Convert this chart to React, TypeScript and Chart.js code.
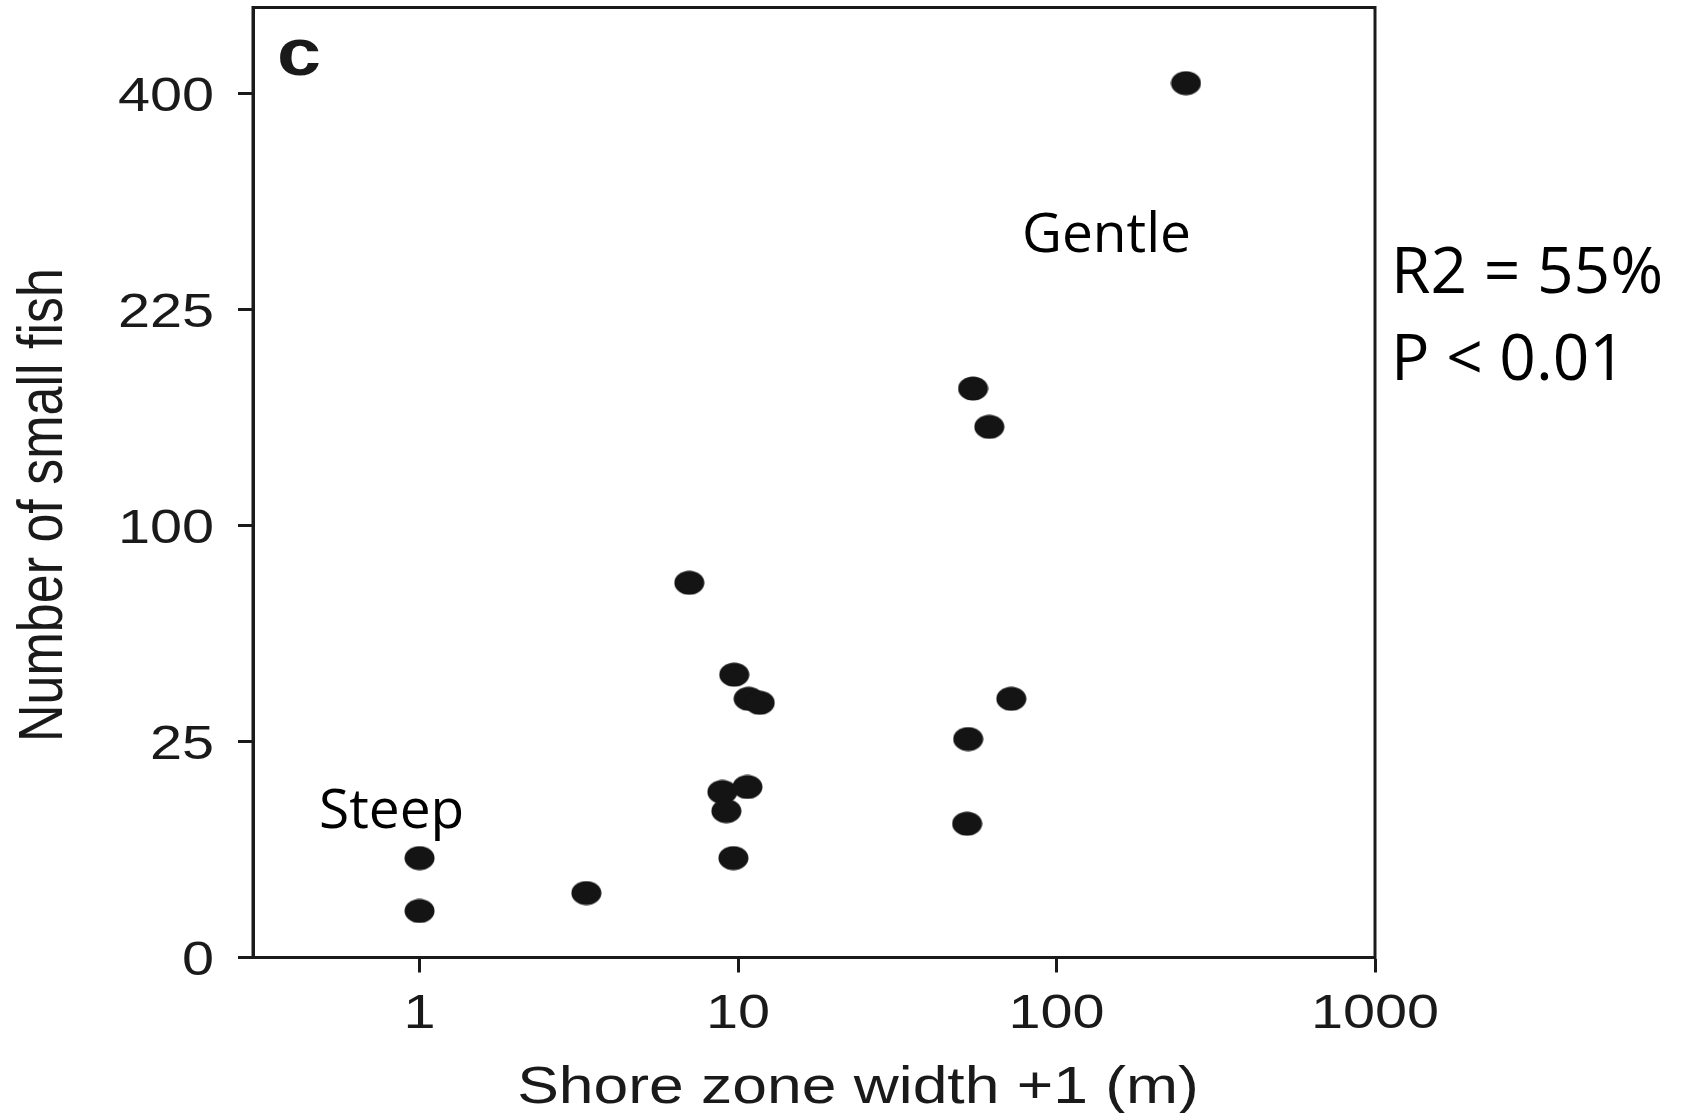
import React, { useEffect, useRef } from 'react';
import { Chart, registerables } from 'chart.js';

Chart.register(...registerables);

// ---- data ----
const shoreWidth = [255, 54.7, 61.5, 7.03, 9.73, 10.8, 11.7, 72.1, 52.8, 8.93, 10.7, 9.19, 52.4, 9.67, 1.0, 1.0, 3.34];
const smallFish = [410, 173.6, 151, 75.3, 42.9, 35.9, 34.8, 35.9, 25.6, 14.7, 15.6, 11.5, 9.6, 5.3, 5.3, 1.16, 2.23];
const xTickValues = [1, 10, 100, 1000];
const yTickValues = [0, 25, 100, 225, 400];
const xAxisTitle = 'Shore zone width +1 (m)';
const yAxisTitle = 'Number of small fish';
const panelLabel = 'c';
const groupLabels = ['Steep', 'Gentle'];
const statsLines = ['R2 = 55%', 'P < 0.01'];

const INK = '#1a1a1a';
const AXIS_FONT = '"Liberation Sans", Arial, Helvetica, sans-serif';
const NOTE_FONT = '"Open Sans", "Noto Sans", sans-serif';
const SX = 1.2; // horizontal stretch of the original figure

function makeDot(): HTMLCanvasElement {
  const c = document.createElement('canvas');
  c.width = 31;
  c.height = 25;
  const g = c.getContext('2d')!;
  g.fillStyle = '#141414';
  g.beginPath();
  g.ellipse(15.5, 12.5, 15, 12, 0, 0, Math.PI * 2);
  g.fill();
  return c;
}

function drawText(
  ctx: CanvasRenderingContext2D,
  text: string,
  x: number,
  y: number,
  font: string,
  align: CanvasTextAlign,
  sx: number,
  rotate = 0,
  color = INK
) {
  ctx.save();
  ctx.translate(x, y);
  ctx.scale(sx, 1);
  if (rotate) ctx.rotate(rotate);
  ctx.font = font;
  ctx.fillStyle = color;
  ctx.textAlign = align;
  ctx.textBaseline = 'alphabetic';
  ctx.fillText(text, 0, 0);
  ctx.restore();
}

const framePlugin = {
  id: 'framePlugin',
  beforeDatasetsDraw(chart: any) {
    const { ctx, chartArea: a } = chart;
    ctx.save();
    ctx.strokeStyle = INK;
    ctx.lineWidth = 3;
    ctx.strokeRect(a.left, a.top, a.right - a.left, a.bottom - a.top);
    ctx.restore();
  },
  afterDraw(chart: any) {
    const ctx: CanvasRenderingContext2D = chart.ctx;
    const xs = chart.scales.x;
    const ys = chart.scales.y;
    const a = chart.chartArea;

    // tick labels
    xTickValues.forEach((v) => {
      drawText(ctx, String(v), xs.getPixelForValue(v), a.bottom + 70, `48px ${AXIS_FONT}`, 'center', SX);
    });
    yTickValues.forEach((v) => {
      drawText(ctx, String(v), a.left - 39, ys.getPixelForValue(Math.sqrt(v)) + 17, `48px ${AXIS_FONT}`, 'right', SX);
    });

    // axis titles
    drawText(ctx, xAxisTitle, 858, 1103, `52px ${AXIS_FONT}`, 'center', SX);
    drawText(ctx, yAxisTitle, 62, 505, `52px ${AXIS_FONT}`, 'center', SX, -Math.PI / 2);

    // panel label
    drawText(ctx, panelLabel, 277, 75, `bold 66px ${AXIS_FONT}`, 'left', SX);

    // annotations
    drawText(ctx, groupLabels[0], 319, 828, `55px ${NOTE_FONT}`, 'left', 1, 0, '#000');
    drawText(ctx, groupLabels[1], 1022, 252, `55px ${NOTE_FONT}`, 'left', 1, 0, '#000');
    drawText(ctx, statsLines[0], 1391, 293, `64px ${NOTE_FONT}`, 'left', 1, 0, '#000');
    drawText(ctx, statsLines[1], 1391, 380, `64px ${NOTE_FONT}`, 'left', 1, 0, '#000');
  },
};

export default function App() {
  const ref = useRef<HTMLCanvasElement | null>(null);

  useEffect(() => {
    if (!ref.current) return;
    const dot = makeDot();
    const points = shoreWidth.map((x, i) => ({ x, y: Math.sqrt(smallFish[i]) }));
    const chart = new Chart(ref.current, {
      type: 'scatter',
      data: {
        datasets: [
          {
            data: points,
            pointStyle: dot as any,
            pointRadius: 15,
            pointHoverRadius: 15,
            backgroundColor: '#141414',
            borderColor: '#141414',
          },
        ],
      },
      options: {
        animation: false,
        responsive: false,
        events: [],
        layout: { autoPadding: false, padding: { left: 238, right: 310, top: 7.5, bottom: 140.5 } },
        plugins: { legend: { display: false }, tooltip: { enabled: false } },
        scales: {
          x: {
            type: 'logarithmic',
            min: 0.3,
            max: 1000,
            afterBuildTicks: (s: any) => {
              s.ticks = xTickValues.map((v) => ({ value: v }));
            },
            ticks: { display: false },
            grid: {
              display: true,
              drawOnChartArea: false,
              drawTicks: true,
              tickLength: 15,
              tickWidth: 3,
              tickColor: INK,
            },
            border: { display: true, color: INK, width: 3 },
          },
          y: {
            type: 'linear',
            min: 0,
            max: 22,
            afterBuildTicks: (s: any) => {
              s.ticks = yTickValues.map((v) => ({ value: Math.sqrt(v) }));
            },
            ticks: { display: false },
            grid: {
              display: true,
              drawOnChartArea: false,
              drawTicks: true,
              tickLength: 15,
              tickWidth: 3,
              tickColor: INK,
            },
            border: { display: true, color: INK, width: 3 },
          },
        },
      },
      plugins: [framePlugin],
    });
    return () => chart.destroy();
  }, []);

  return (
    <div style={{ position: 'fixed', left: 0, top: 0, width: 1685, height: 1113, background: '#fff' }}>
      <canvas ref={ref} width={1685} height={1113} style={{ display: 'block' }} />
    </div>
  );
}
